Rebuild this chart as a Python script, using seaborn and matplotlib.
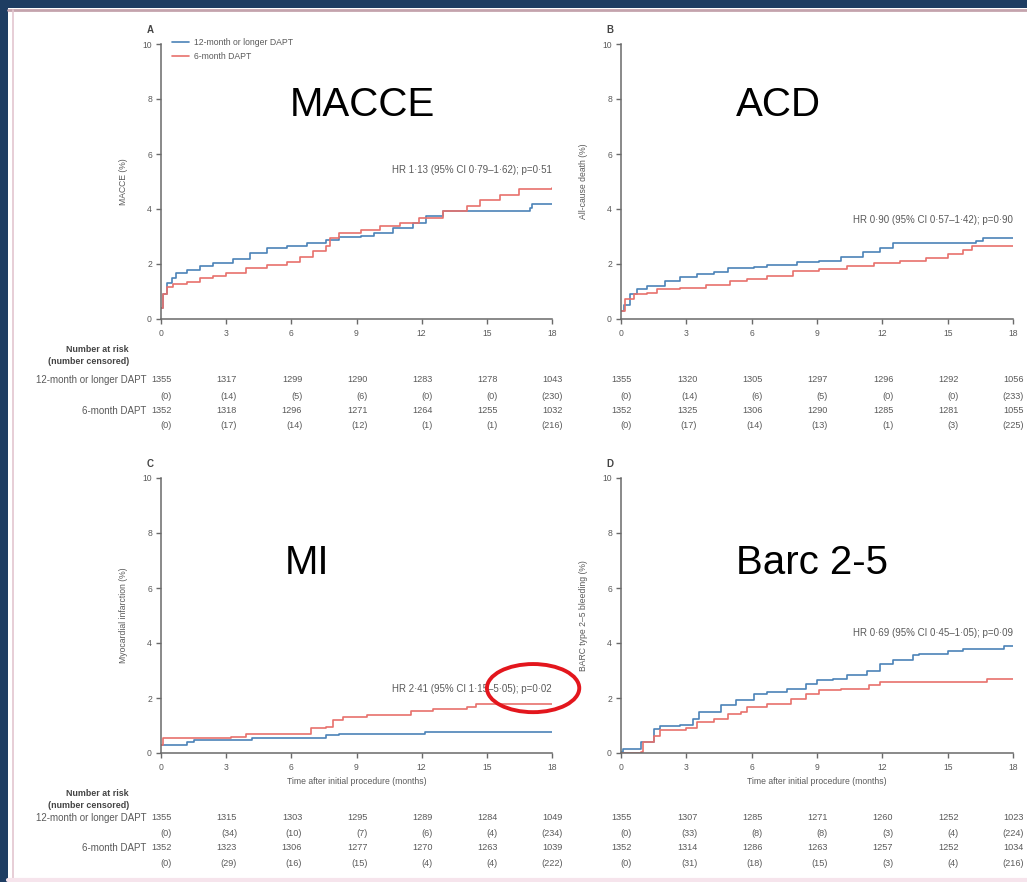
import matplotlib
matplotlib.use("Agg")
import matplotlib.pyplot as plt
import matplotlib.transforms as mtransforms
from matplotlib.patches import Rectangle, Ellipse
from matplotlib.lines import Line2D
import numpy as np
import pandas as pd
import seaborn as sns

# ---------------- data ----------------
groups = ["12-month or longer DAPT", "6-month DAPT"]
x_ticks = [0, 3, 6, 9, 12, 15, 18]

# Panel A: MACCE
a_long_t = [0, 0.1, 0.26, 0.5, 0.7, 1.2, 1.8, 2.4, 3.3, 4.1, 4.9, 5.8, 6.7, 7.6, 8.2, 9.2, 9.8, 10.7, 11.6, 12.2, 13.0, 16.2, 17.0, 17.1, 18]
a_long_y = [0.4, 0.9, 1.3, 1.5, 1.67, 1.79, 1.93, 2.03, 2.18, 2.4, 2.58, 2.64, 2.76, 2.88, 2.98, 3.0, 3.12, 3.3, 3.5, 3.73, 3.91, 3.91, 4.04, 4.19, 4.19]
a_short_t = [0, 0.1, 0.26, 0.57, 1.2, 1.8, 2.4, 3.0, 3.9, 4.9, 5.8, 6.4, 7.0, 7.6, 7.8, 8.2, 9.2, 10.1, 11.0, 11.9, 13.0, 14.1, 14.7, 15.6, 16.5, 18]
a_short_y = [0.4, 0.9, 1.18, 1.28, 1.36, 1.5, 1.58, 1.67, 1.85, 1.97, 2.09, 2.27, 2.46, 2.64, 2.94, 3.12, 3.25, 3.39, 3.49, 3.67, 3.91, 4.1, 4.34, 4.52, 4.74, 4.76]

# Panel B: all-cause death
b_long_t = [0, 0.15, 0.43, 0.73, 1.2, 2.0, 2.7, 3.5, 4.25, 4.9, 6.1, 6.7, 8.1, 9.1, 10.1, 11.1, 11.9, 12.5, 16.3, 16.6, 18]
b_long_y = [0.3, 0.5, 0.9, 1.08, 1.2, 1.38, 1.53, 1.62, 1.7, 1.86, 1.89, 1.98, 2.06, 2.1, 2.25, 2.42, 2.57, 2.78, 2.85, 2.93, 2.93]
b_short_t = [0, 0.2, 0.6, 1.2, 1.65, 2.7, 3.9, 5.0, 5.8, 6.7, 7.9, 9.1, 10.4, 11.6, 12.8, 14.0, 15.0, 15.7, 16.1, 18]
b_short_y = [0.3, 0.72, 0.9, 0.96, 1.08, 1.14, 1.22, 1.38, 1.46, 1.58, 1.74, 1.82, 1.94, 2.04, 2.12, 2.22, 2.37, 2.51, 2.66, 2.66]

# Panel C: myocardial infarction
c_long_t = [0, 1.2, 1.5, 4.2, 7.6, 8.2, 12.15, 18]
c_long_y = [0.3, 0.4, 0.46, 0.55, 0.64, 0.7, 0.76, 0.76]
c_short_t = [0, 0.1, 3.2, 3.9, 6.9, 7.6, 7.9, 8.4, 9.5, 11.5, 12.5, 14.1, 14.5, 18]
c_short_y = [0.3, 0.55, 0.6, 0.7, 0.91, 0.95, 1.19, 1.31, 1.39, 1.52, 1.61, 1.67, 1.79, 1.79]

# Panel D: BARC type 2-5 bleeding
d_long_t = [0, 0.1, 0.9, 1.5, 1.8, 2.7, 3.3, 3.6, 4.6, 5.3, 6.1, 6.7, 7.6, 8.5, 9.0, 9.75, 10.4, 11.3, 11.9, 12.5, 13.4, 13.7, 15.0, 15.7, 17.6, 18]
d_long_y = [0.05, 0.15, 0.39, 0.88, 1.0, 1.02, 1.24, 1.48, 1.75, 1.93, 2.15, 2.21, 2.33, 2.52, 2.64, 2.7, 2.82, 2.97, 3.25, 3.39, 3.55, 3.61, 3.7, 3.77, 3.89, 3.9]
d_short_t = [0, 0.9, 1.0, 1.5, 1.8, 3.0, 3.5, 4.25, 4.9, 5.5, 5.8, 6.7, 7.8, 8.5, 9.1, 10.1, 11.4, 11.9, 16.8, 18]
d_short_y = [0.0, 0.05, 0.39, 0.63, 0.82, 0.9, 1.12, 1.24, 1.42, 1.48, 1.67, 1.79, 1.97, 2.15, 2.3, 2.33, 2.46, 2.58, 2.7, 2.7]

# Number at risk (number censored)
a_risk_long = ["1355", "1317", "1299", "1290", "1283", "1278", "1043"]
a_cens_long = ["(0)", "(14)", "(5)", "(6)", "(0)", "(0)", "(230)"]
a_risk_short = ["1352", "1318", "1296", "1271", "1264", "1255", "1032"]
a_cens_short = ["(0)", "(17)", "(14)", "(12)", "(1)", "(1)", "(216)"]

b_risk_long = ["1355", "1320", "1305", "1297", "1296", "1292", "1056"]
b_cens_long = ["(0)", "(14)", "(6)", "(5)", "(0)", "(0)", "(233)"]
b_risk_short = ["1352", "1325", "1306", "1290", "1285", "1281", "1055"]
b_cens_short = ["(0)", "(17)", "(14)", "(13)", "(1)", "(3)", "(225)"]

c_risk_long = ["1355", "1315", "1303", "1295", "1289", "1284", "1049"]
c_cens_long = ["(0)", "(34)", "(10)", "(7)", "(6)", "(4)", "(234)"]
c_risk_short = ["1352", "1323", "1306", "1277", "1270", "1263", "1039"]
c_cens_short = ["(0)", "(29)", "(16)", "(15)", "(4)", "(4)", "(222)"]

d_risk_long = ["1355", "1307", "1285", "1271", "1260", "1252", "1023"]
d_cens_long = ["(0)", "(33)", "(8)", "(8)", "(3)", "(4)", "(224)"]
d_risk_short = ["1352", "1314", "1286", "1263", "1257", "1252", "1034"]
d_cens_short = ["(0)", "(31)", "(18)", "(15)", "(3)", "(4)", "(216)"]

panel_letters = ["A", "B", "C", "D"]
panel_titles = ["MACCE", "ACD", "MI", "Barc 2-5"]
y_labels = ["MACCE (%)", "All-cause death (%)", "Myocardial infarction (%)", "BARC type 2\u20135 bleeding (%)"]
hr_texts = [
    "HR 1\u00b713 (95% CI 0\u00b779\u20131\u00b762); p=0\u00b751",
    "HR 0\u00b790 (95% CI 0\u00b757\u20131\u00b742); p=0\u00b790",
    "HR 2\u00b741 (95% CI 1\u00b715\u20135\u00b705); p=0\u00b702",
    "HR 0\u00b769 (95% CI 0\u00b745\u20131\u00b705); p=0\u00b709",
]
hr_y = [5.42, 3.6, 2.33, 4.36]

# ---------------- style ----------------
sns.set_theme(style="ticks")
plt.rcParams["font.family"] = ["Liberation Sans", "DejaVu Sans"]

W, H = 1027, 882
fig = plt.figure(figsize=(W / 100, H / 100), dpi=100)
fig.patch.set_facecolor("#1e3d62")

def fx(px):
    return px / W

def fy(py):
    return 1 - py / H

# white slide panel with its thin rose border (kept beneath the axes)
fig.patches.append(Rectangle((fx(8), 0), 1 - fx(8), fy(8), transform=fig.transFigure,
                             facecolor="white", edgecolor="none", zorder=-5))
fig.add_artist(Line2D([fx(8), 1], [fy(10), fy(10)], transform=fig.transFigure,
                      color="#c4a3ad", lw=2.0, zorder=-4))
fig.add_artist(Line2D([fx(13), fx(13)], [0, fy(10)], transform=fig.transFigure,
                      color="#e3c6cf", lw=1.2, zorder=-4))
fig.add_artist(Line2D([fx(8), 1], [fy(880), fy(880)], transform=fig.transFigure,
                      color="#f6e4ec", lw=3, zorder=-4))

BLUE = "#4b83b8"
RED = "#e8716c"
GREY = "#5a5a5a"
TICK = 6.2
NUM = 6.6
LAB = 7.0

panels = [
    dict(left=161, right=552, top=44, bottom=319,
         long=(a_long_t, a_long_y), short=(a_short_t, a_short_y),
         risk=(a_risk_long, a_cens_long, a_risk_short, a_cens_short), rows=[380, 396, 411, 426],
         head=[349, 362], labels=True, xlabel=False, legend=True),
    dict(left=621, right=1013, top=44, bottom=319,
         long=(b_long_t, b_long_y), short=(b_short_t, b_short_y),
         risk=(b_risk_long, b_cens_long, b_risk_short, b_cens_short), rows=[380, 396, 411, 426],
         head=None, labels=False, xlabel=False, legend=False),
    dict(left=161, right=552, top=478, bottom=753,
         long=(c_long_t, c_long_y), short=(c_short_t, c_short_y),
         risk=(c_risk_long, c_cens_long, c_risk_short, c_cens_short), rows=[818, 833, 848, 863],
         head=[793, 806], labels=True, xlabel=True, legend=False),
    dict(left=621, right=1013, top=478, bottom=753,
         long=(d_long_t, d_long_y), short=(d_short_t, d_short_y),
         risk=(d_risk_long, d_cens_long, d_risk_short, d_cens_short), rows=[818, 833, 848, 863],
         head=None, labels=False, xlabel=True, legend=False),
]

title_pos = [(362, 105), (778, 105), (307, 563), (812, 563)]

for i, p in enumerate(panels):
    ax = fig.add_axes([fx(p["left"]), fy(p["bottom"]), fx(p["right"] - p["left"]),
                       (p["bottom"] - p["top"]) / H])
    ax.set_facecolor("none")
    df = pd.concat([
        pd.DataFrame({"time": p["long"][0], "risk": p["long"][1], "group": groups[0]}),
        pd.DataFrame({"time": p["short"][0], "risk": p["short"][1], "group": groups[1]}),
    ], ignore_index=True)
    sns.lineplot(data=df, x="time", y="risk", hue="group", palette=[BLUE, RED],
                 drawstyle="steps-post", estimator=None, linewidth=1.2,
                 legend=False, ax=ax)
    ax.set_xlim(0, 18)
    ax.set_ylim(0, 10)
    ax.set_xticks(x_ticks)
    ax.set_yticks([0, 2, 4, 6, 8, 10])
    sns.despine(ax=ax)
    for s in ("left", "bottom"):
        ax.spines[s].set_color("#6a6a6a")
        ax.spines[s].set_linewidth(1.1)
    ax.tick_params(axis="both", direction="out", length=3.5, width=1.0, colors="#6a6a6a",
                   labelsize=TICK, labelcolor=GREY, pad=3)
    ax.tick_params(axis="x", pad=4)
    ax.set_ylabel(y_labels[i], fontsize=TICK, color=GREY)
    ax.yaxis.set_label_coords(-0.085, 0.5)
    if p["xlabel"]:
        ax.set_xlabel("Time after initial procedure (months)", fontsize=TICK, color=GREY, labelpad=3)
    else:
        ax.set_xlabel("")

    # hazard ratio note
    ax.text(18, hr_y[i], hr_texts[i], ha="right", va="center", fontsize=LAB, color=GREY)

    # panel letter
    fig.text(fx(p["left"] - 11), fy(p["top"] - 14), panel_letters[i], ha="center", va="center",
             fontsize=7, fontweight="bold", color="#444444")

    # large endpoint name
    fig.text(fx(title_pos[i][0]), fy(title_pos[i][1]), panel_titles[i], ha="center", va="center",
             fontsize=29, color="black")

    if p["legend"]:
        handles = [Line2D([], [], color=BLUE, lw=1.2), Line2D([], [], color=RED, lw=1.2)]
        ax.legend(handles, groups, loc="upper left", bbox_to_anchor=(0.02, 1.035), frameon=False,
                  fontsize=TICK, labelcolor=GREY, handlelength=2.0, handletextpad=0.5,
                  labelspacing=0.65, borderaxespad=0)

    # number-at-risk table
    tr = mtransforms.blended_transform_factory(ax.transData, fig.transFigure)
    rows = p["risk"]
    for r, vals in enumerate(rows):
        for t, v in zip(x_ticks, vals):
            ax.text(t + 0.5, fy(p["rows"][r]), v, transform=tr, ha="right", va="center",
                    fontsize=NUM, color=GREY, clip_on=False)
    if p["labels"]:
        fig.text(fx(146), fy(p["rows"][0]), groups[0], ha="right", va="center", fontsize=LAB, color=GREY)
        fig.text(fx(146), fy(p["rows"][2]), groups[1], ha="right", va="center", fontsize=LAB, color=GREY)
        fig.text(fx(129), fy(p["head"][0]), "Number at risk", ha="right", va="center",
                 fontsize=6.4, color="#444444", fontweight="bold")
        fig.text(fx(129), fy(p["head"][1]), "(number censored)", ha="right", va="center",
                 fontsize=6.4, color="#444444", fontweight="bold")

    if i == 2:
        ax.add_patch(Ellipse((17.13, 2.36), 4.25, 1.75, fill=False, edgecolor="#e3161d",
                             linewidth=2.8, clip_on=False, zorder=5))

fig.savefig("out.png", dpi=100, facecolor=fig.get_facecolor())
